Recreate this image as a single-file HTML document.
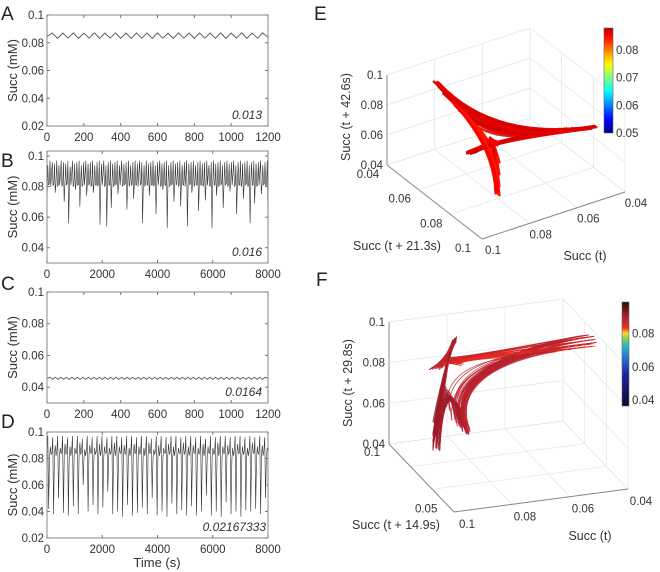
<!DOCTYPE html>
<html><head><meta charset="utf-8"><style>
body{margin:0;background:#fff}
svg{display:block;font-family:"Liberation Sans",Arial,sans-serif}
</style></head><body>
<svg id="fig" width="660" height="572" viewBox="0 0 660 572">
<defs>
<linearGradient id="cbE" x1="0" y1="1" x2="0" y2="0"></linearGradient>
<linearGradient id="cbF" x1="0" y1="1" x2="0" y2="0"></linearGradient>
</defs>
<g id="root"></g>
</svg>
<script>
// ---------- data ----------
const aVals=[0.0845,0.0871,0.0832,0.0870,0.0833,0.0871,0.0832,0.0869,0.0833,0.0871,0.0832,0.0870,0.0833,0.0871,0.0832,0.0870,0.0832,0.0871,0.0833,0.0870,0.0832,0.0871,0.0833,0.0869,0.0832,0.0871,0.0833,0.0870,0.0832,0.0871,0.0833,0.0870,0.0832,0.0871,0.0832,0.0870,0.0833,0.0871,0.0832,0.0870,0.0833,0.0871,0.0840];
const bVals=[0.066,0.094,0.081,0.082,0.097,0.080,0.088,0.096,0.081,0.081,0.095,0.076,0.082,0.097,0.080,0.081,0.094,0.081,0.088,0.097,0.080,0.082,0.096,0.070,0.081,0.095,0.081,0.082,0.097,0.056,0.081,0.093,0.081,0.087,0.097,0.080,0.081,0.095,0.078,0.082,0.096,0.081,0.081,0.097,0.067,0.082,0.094,0.080,0.081,0.096,0.081,0.088,0.097,0.074,0.081,0.095,0.081,0.082,0.096,0.080,0.081,0.097,0.076,0.082,0.094,0.081,0.081,0.096,0.080,0.082,0.097,0.055,0.081,0.095,0.081,0.088,0.097,0.080,0.081,0.094,0.054,0.082,0.096,0.081,0.081,0.097,0.066,0.082,0.095,0.080,0.081,0.096,0.081,0.082,0.097,0.075,0.081,0.094,0.081,0.089,0.097,0.080,0.081,0.095,0.081,0.082,0.096,0.065,0.081,0.097,0.080,0.082,0.094,0.081,0.081,0.096,0.072,0.082,0.097,0.081,0.081,0.095,0.080,0.088,0.097,0.081,0.082,0.096,0.056,0.081,0.094,0.080,0.082,0.097,0.081,0.081,0.095,0.074,0.082,0.096,0.081,0.081,0.097,0.080,0.082,0.094,0.062,0.081,0.096,0.081,0.088,0.097,0.080,0.081,0.095,0.078,0.082,0.096,0.081,0.081,0.097,0.053,0.082,0.094,0.080,0.081,0.096,0.081,0.082,0.097,0.070,0.081,0.095,0.081,0.082,0.096,0.080,0.081,0.097,0.067,0.082,0.094,0.081,0.081,0.096,0.080,0.088,0.097,0.054,0.081,0.095,0.081,0.082,0.096,0.076,0.081,0.097,0.080,0.082,0.094,0.081,0.081,0.096,0.064,0.082,0.097,0.081,0.081,0.095,0.080,0.082,0.096,0.071,0.081,0.097,0.081,0.088,0.094,0.080,0.081,0.096,0.053,0.082,0.097,0.081,0.081,0.095,0.074,0.082,0.096,0.080,0.081,0.097,0.081,0.082,0.094,0.066,0.081,0.096,0.081,0.082,0.097,0.080,0.081,0.095,0.077,0.082,0.096,0.081,0.088,0.097,0.080,0.081,0.094,0.062,0.082,0.096,0.081,0.081,0.097,0.080,0.082,0.095,0.072,0.081,0.096,0.081,0.082,0.097,0.080,0.081,0.094,0.056,0.082,0.096,0.081,0.081,0.097,0.069,0.082,0.095,0.080,0.081,0.096,0.081,0.089,0.097,0.075,0.081,0.094,0.081,0.082,0.096,0.080,0.081,0.097,0.052];
const cVals=[0.0455,0.0462,0.0449,0.0462,0.0449,0.0462,0.0449,0.0462,0.0449,0.0462,0.0449,0.0462,0.0449,0.0462,0.0449,0.0462,0.0449,0.0462,0.0449,0.0462,0.0449,0.0462,0.0449,0.0462,0.0449,0.0462,0.0449,0.0462,0.0449,0.0462,0.0449,0.0462,0.0449,0.0462,0.0449,0.0462,0.0449,0.0462,0.0449,0.0462,0.0449,0.0462,0.0449,0.0462,0.0449,0.0462,0.0449,0.0462,0.0449,0.0462,0.0449,0.0462,0.0449,0.0462,0.0449,0.0462,0.0449,0.0462,0.0449,0.0462,0.0449,0.0462,0.0449,0.0462,0.0449,0.0462,0.0449,0.0462,0.0449,0.0462,0.0449,0.0462,0.0449,0.0462,0.0449,0.0462,0.0449,0.0462,0.0449,0.0462,0.0455];
const dVals=[
0.085,0.097,0.042,0.080,0.089,0.083, 0.084,0.096,0.038,0.081,0.090,0.082, 0.086,0.097,0.050,0.079,0.088,0.084,
0.084,0.097,0.039,0.082,0.091,0.083, 0.085,0.096,0.037,0.080,0.089,0.082, 0.086,0.097,0.044,0.081,0.088,0.084,
0.084,0.097,0.038,0.082,0.092,0.083, 0.085,0.095,0.060,0.080,0.087,0.082, 0.086,0.097,0.040,0.081,0.090,0.084,
0.084,0.096,0.045,0.079,0.088,0.083, 0.085,0.097,0.038,0.082,0.091,0.082, 0.086,0.097,0.043,0.080,0.089,0.084,
0.084,0.096,0.055,0.081,0.088,0.083, 0.085,0.097,0.038,0.082,0.092,0.082, 0.086,0.097,0.040,0.080,0.089,0.084,
0.084,0.096,0.036,0.081,0.090,0.083, 0.085,0.097,0.045,0.079,0.088,0.082, 0.086,0.097,0.037,0.082,0.091,0.084,
0.084,0.096,0.039,0.080,0.089,0.083, 0.085,0.097,0.043,0.081,0.088,0.082, 0.086,0.097,0.038,0.082,0.092,0.084,
0.084,0.095,0.050,0.080,0.087,0.083, 0.085,0.097,0.037,0.081,0.090,0.082, 0.086,0.097,0.040,0.079,0.088,0.084,
0.084,0.096,0.036,0.082,0.091,0.083, 0.085,0.097,0.046,0.080,0.089,0.082, 0.086,0.097,0.038,0.081,0.088,0.084,
0.084,0.096,0.041,0.082,0.092,0.083, 0.085,0.097,0.037,0.080,0.089,0.082, 0.086,0.097,0.044,0.081,0.090,0.084,
0.084,0.096,0.037,0.079,0.088,0.083, 0.085,0.097,0.040,0.082,0.091,0.082, 0.086,0.095,0.052,0.080,0.089,0.084,
0.084,0.097,0.037,0.081,0.088,0.083, 0.085,0.096,0.040,0.082,0.092,0.082, 0.086,0.097,0.036,0.080,0.089,0.084,
0.084,0.097,0.047,0.081,0.090,0.083, 0.085,0.096,0.038,0.079,0.088,0.082, 0.086,0.097,0.040,0.082,0.091,0.084,
0.084,0.097,0.036,0.080,0.089,0.083, 0.085,0.096,0.041,0.081,0.088,0.082, 0.086,0.097,0.040,0.082,0.092,0.084,
0.084,0.096,0.042,0.080,0.089,0.083, 0.085,0.097,0.038,0.081,0.090,0.082, 0.086,0.096,0.050,0.080,0.088,0.085];
const eVals=[
0.085,0.087,0.084,0.086,0.055,0.095,0.086, 0.084,0.087,0.085,0.086,0.062,0.092,0.087, 0.085,0.086,0.084,0.087,0.050,0.097,0.086,
0.084,0.087,0.085,0.086,0.068,0.090,0.086, 0.085,0.087,0.084,0.086,0.058,0.094,0.087, 0.084,0.086,0.085,0.087,0.053,0.096,0.086,
0.085,0.087,0.084,0.086,0.065,0.091,0.086, 0.084,0.087,0.085,0.086,0.060,0.093,0.087, 0.085,0.086,0.084,0.087,0.072,0.089,0.086,
0.084,0.087,0.085,0.086,0.052,0.097,0.086, 0.085,0.087,0.084,0.086,0.057,0.095,0.087, 0.084,0.086,0.085,0.087,0.063,0.092,0.086,
0.085,0.087,0.084,0.086,0.050,0.096,0.086, 0.084,0.087,0.085,0.086,0.070,0.090,0.087, 0.085,0.086,0.084,0.087,0.056,0.094,0.086,
0.084,0.087,0.085,0.086,0.061,0.093,0.086, 0.085,0.087,0.084,0.086,0.054,0.096,0.087, 0.084,0.086,0.085,0.087,0.066,0.091,0.086,
0.085,0.087,0.084,0.086,0.059,0.094,0.086, 0.084,0.087,0.085,0.086,0.051,0.097,0.087, 0.085,0.086,0.084,0.087,0.064,0.092,0.086,
0.084,0.087,0.085,0.086,0.057,0.095,0.086, 0.085,0.087,0.084,0.086,0.069,0.090,0.087, 0.084,0.086,0.085,0.087,0.053,0.096,0.086,
0.085,0.087,0.084,0.086,0.060,0.093,0.086];
const xTicksShort=[0,200,400,600,800,1000,1200];
const xTicksLong=[0,2000,4000,6000,8000];
const yTicksA=[0.02,0.04,0.06,0.08,0.1];
const yTicksB=[0.04,0.06,0.08,0.1];
const yTicksD=[0.02,0.04,0.06,0.08,0.1];
const axTicks3=[0.04,0.06,0.08,0.1];
const cbTicksE=[0.05,0.06,0.07,0.08];
const cbTicksF=[0.04,0.06,0.08];
const yTicksF=[0.1,0.05];

// ---------- helpers ----------
const NS="http://www.w3.org/2000/svg";
const root=document.getElementById('root');
function mk(tag,attrs,parent,text){const e=document.createElementNS(NS,tag);for(const k in attrs)e.setAttribute(k,attrs[k]);if(text!==undefined)e.textContent=text;(parent||root).appendChild(e);return e;}
function fmt(v){return String(+v.toFixed(4));}
function jet(t){t=Math.max(0,Math.min(1,t));const c=x=>Math.round(255*Math.max(0,Math.min(1,1.5-Math.abs(x))));return `rgb(${c(4*t-3)},${c(4*t-2)},${c(4*t-1)})`;}
const fStops=[[0,[10,10,48]],[0.3,[32,32,160]],[0.45,[42,106,208]],[0.58,[32,192,192]],[0.66,[160,208,64]],[0.7,[240,224,32]],[0.74,[240,48,32]],[0.85,[176,32,48]],[1,[48,8,8]]];
function cmapF(t){t=Math.max(0,Math.min(1,t));for(let k=1;k<fStops.length;k++){if(t<=fStops[k][0]){const a=fStops[k-1],b=fStops[k];const f=(t-a[0])/(b[0]-a[0]);const c=a[1].map((v,i)=>Math.round(v+(b[1][i]-v)*f));return `rgb(${c[0]},${c[1]},${c[2]})`;}}return 'rgb(48,8,8)';}
function med(a,b,c){return Math.max(Math.min(a,b),Math.min(Math.max(a,b),c));}
function hiMid(a,b,c){return (Math.max(a,b,c)+med(a,b,c))/2;}

function tsPanel(id,vals,tmax,box,ymin,ymax,yt,xt,col,lw,note,noteX){
  const g=mk('g',{},root);
  
  
  const sx=t=>box.l+(t/tmax)*(box.r-box.l);
  const sy=v=>box.b-(v-ymin)/(ymax-ymin)*(box.b-box.t);
  const dt=tmax/(vals.length-1);
  let d='';vals.forEach((v,i)=>{d+=(i?'L':'M')+sx(i*dt).toFixed(2)+' '+sy(v).toFixed(2);});
  const ln=mk('path',{d:d,fill:'none',stroke:col,'stroke-width':lw},g);
  
  
  const fr=mk('rect',{x:box.l,y:box.t,width:box.r-box.l,height:box.b-box.t,fill:'none',stroke:'#8a8a8a','stroke-width':1},g);
  
  
  yt.forEach(v=>{const y=sy(v);
    mk('line',{x1:box.l,x2:box.l+3,y1:y,y2:y,stroke:'#777'},g);
    mk('line',{x1:box.r,x2:box.r-3,y1:y,y2:y,stroke:'#777'},g);
    const t=mk('text',{x:box.l-3,y:y+4,'font-size':11.5,'text-anchor':'end',fill:'#333'},g,fmt(v));
    
    
  });
  xt.forEach(v=>{const x=sx(v);
    mk('line',{x1:x,x2:x,y1:box.b,y2:box.b-3,stroke:'#777'},g);
    mk('line',{x1:x,x2:x,y1:box.t,y2:box.t+3,stroke:'#777'},g);
    const t=mk('text',{x:x,y:box.b+15,'font-size':11.5,'text-anchor':'middle',fill:'#333'},g,String(v));
    
    
  });
  const nt=mk('text',{x:noteX,y:box.b-7,'font-size':12,'font-style':'italic','text-anchor':'end',fill:'#333'},g,note);
  
  
  const cy=(box.t+box.b)/2;
  const yl=mk('text',{x:0,y:0,'font-size':13,'text-anchor':'middle',fill:'#333',transform:`translate(17,${cy}) rotate(-90)`},g,'Succ (mM)');
  
  
}

tsPanel('panel-a',aVals,1200,{l:47,r:268,t:15,b:126},0.02,0.1,yTicksA,xTicksShort,'#555',0.9,'0.013',262);
tsPanel('panel-b',bVals,8000,{l:47,r:268,t:151,b:263},0.03,0.1033,yTicksB,xTicksLong,'#333',0.6,'0.016',262);
tsPanel('panel-c',cVals,1200,{l:47,r:268,t:292,b:403},0.03,0.1,yTicksB,xTicksShort,'#555',0.9,'0.0164',262);
tsPanel('panel-d',dVals,8000,{l:47,r:268,t:432,b:538},0.02,0.1,yTicksD,xTicksLong,'#333',0.6,'0.02167333',266);
const tl=mk('text',{x:157,y:567,'font-size':13,'text-anchor':'middle',fill:'#333'},root,'Time (s)');



[['A',1,20],['B',1,167],['C',1,290],['D',1,428],['E',314,20],['F',316,286]].forEach(([L,x,y])=>{
  const t=mk('text',{x:x,y:y,'font-size':19,fill:'#222'},root,L);
  
  
});

// ---------- 3D panels ----------
function panel3d(id,cfg,series,d1,d2,cmap,agg,cmin,cmax,cbTicks,grad,cbBox,lw,op,center){
  const g=mk('g',{},root);
  
  
  const P=(x,y,z)=>[cfg.ox+cfg.ux*(x-cfg.xf)+cfg.vx*(y-cfg.yf), cfg.oy+cfg.uy*(x-cfg.xf)+cfg.vy*(y-cfg.yf)-cfg.h*(z-0.04)/0.06];
  const L=(a,b,st,w)=>{const p=P(...a),q=P(...b);return mk('line',{x1:p[0],y1:p[1],x2:q[0],y2:q[1],stroke:st,'stroke-width':w},g);};
  const gc='#e4e4e4';
  const xb=cfg.backX, yb=cfg.backY, yo=cfg.yOther;
  axTicks3.forEach(v=>{
    L([v,0.04,0.04],[v,0.1,0.04],gc,0.7);
    L([0.04,v,0.04],[0.1,v,0.04],gc,0.7);
    L([xb,v,0.04],[xb,v,0.1],gc,0.7);
    L([xb,0.04,v],[xb,0.1,v],gc,0.7);
    L([v,yb,0.04],[v,yb,0.1],gc,0.7);
    L([0.04,yb,v],[0.1,yb,v],gc,0.7);
  });
  L([0.1,yo,0.04],[0.1,yo,0.1],'#888',1);
  L([0.1,yo,0.04],[0.1,cfg.yf,0.04],'#888',1);
  L([0.1,cfg.yf,0.04],[0.04,cfg.yf,0.04],'#888',1);
  const C=P(center,center,center);
  for(let i=0;i+1+d2<series.length;i++){
    const j=i+1;
    const p=P(series[i],series[i+d1],series[i+d2]),q=P(series[j],series[j+d1],series[j+d2]);
    const c=cmap((agg(series[i],series[i+d1],series[i+d2])-cmin)/(cmax-cmin));
    const s=mk('path',{d:`M${p[0].toFixed(1)} ${p[1].toFixed(1)}Q${C[0].toFixed(1)} ${C[1].toFixed(1)} ${q[0].toFixed(1)} ${q[1].toFixed(1)}`,fill:'none',stroke:c,'stroke-width':lw,'stroke-opacity':op,'stroke-linecap':'round'},g);
    
    
  }
  cfg.zTicks.forEach(v=>{const p=P(0.1,yo,v);
    const t=mk('text',{x:p[0]-4,y:p[1]+4,'font-size':11.5,'text-anchor':'end',fill:'#333'},g,fmt(v));
    
    });
  cfg.yTicks.forEach(v=>{const p=P(0.1,v,0.04);
    const t=mk('text',{x:p[0]+cfg.yOff[0],y:p[1]+cfg.yOff[1],'font-size':11.5,'text-anchor':'middle',fill:'#333'},g,fmt(v));
    
    });
  axTicks3.forEach(v=>{const p=P(v,cfg.yf,0.04);
    const t=mk('text',{x:p[0]+cfg.xOff[0],y:p[1]+cfg.xOff[1],'font-size':11.5,'text-anchor':'middle',fill:'#333'},g,fmt(v));
    
    });
  const t1=mk('text',{x:cfg.yTitle[0],y:cfg.yTitle[1],'font-size':12.5,'text-anchor':'middle',fill:'#333'},g,cfg.yTitleText);
  
  
  const t2=mk('text',{x:cfg.xTitle[0],y:cfg.xTitle[1],'font-size':12.5,'text-anchor':'middle',fill:'#333'},g,'Succ (t)');
  
  
  const t3=mk('text',{x:0,y:0,'font-size':12.5,'text-anchor':'middle',fill:'#333',transform:`translate(${cfg.zTitle[0]},${cfg.zTitle[1]}) rotate(-90)`},g,cfg.zTitleText);
  
  
  const gr=document.getElementById(grad);
  for(let k=0;k<=20;k++){const o=k/20;const v=cbBox.vmin+o*(cbBox.vmax-cbBox.vmin);mk('stop',{offset:o,'stop-color':cmap((v-cmin)/(cmax-cmin))},gr);}
  const cb=mk('rect',{x:cbBox.x,y:cbBox.t,width:cbBox.w,height:cbBox.b-cbBox.t,fill:`url(#${grad})`,stroke:'#666','stroke-width':0.6},g);
  
  
  cbTicks.forEach(v=>{const y=cbBox.b-(v-cbBox.vmin)/(cbBox.vmax-cbBox.vmin)*(cbBox.b-cbBox.t);
    const t=mk('text',{x:cbBox.x+cbBox.w+3,y:y+4,'font-size':11.5,fill:'#333'},g,fmt(v));
    
    });
}

panel3d('panel-e',{ox:482,oy:239,xf:0.1,yf:0.1,ux:-143/0.06,uy:47/0.06,vx:95/0.06,vy:74/0.06,h:90,
  backX:0.04,backY:0.04,yOther:0.04,zTicks:axTicks3,yTicks:axTicks3,yOff:[-19,13],xOff:[11,15],
  yTitle:[397,250],yTitleText:'Succ (t + 21.3s)',xTitle:[585,260],zTitle:[350,117],zTitleText:'Succ (t + 42.6s)'},
  eVals,1,2,jet,med,0.05,0.09,cbTicksE,'cbE',{x:604,w:9,t:28,b:133,vmin:0.05,vmax:0.088},2.2,0.85,0.085);

panel3d('panel-f',{ox:454,oy:512,xf:0.1,yf:0.04,ux:-174/0.06,uy:23/0.06,vx:-65/0.06,vy:-68/0.06,h:122,
  backX:0.04,backY:0.1,yOther:0.1,zTicks:axTicks3,yTicks:yTicksF,yOff:[-17,12],xOff:[13,16],
  yTitle:[396,529],yTitleText:'Succ (t + 14.9s)',xTitle:[590,540],zTitle:[352,383],zTitleText:'Succ (t + 29.8s)'},
  dVals,1,2,cmapF,hiMid,0.0365,0.099,cbTicksF,'cbF',{x:622,w:7,t:302,b:406,vmin:0.0365,vmax:0.099},0.8,0.85,0.086);
</script>
</body></html>
